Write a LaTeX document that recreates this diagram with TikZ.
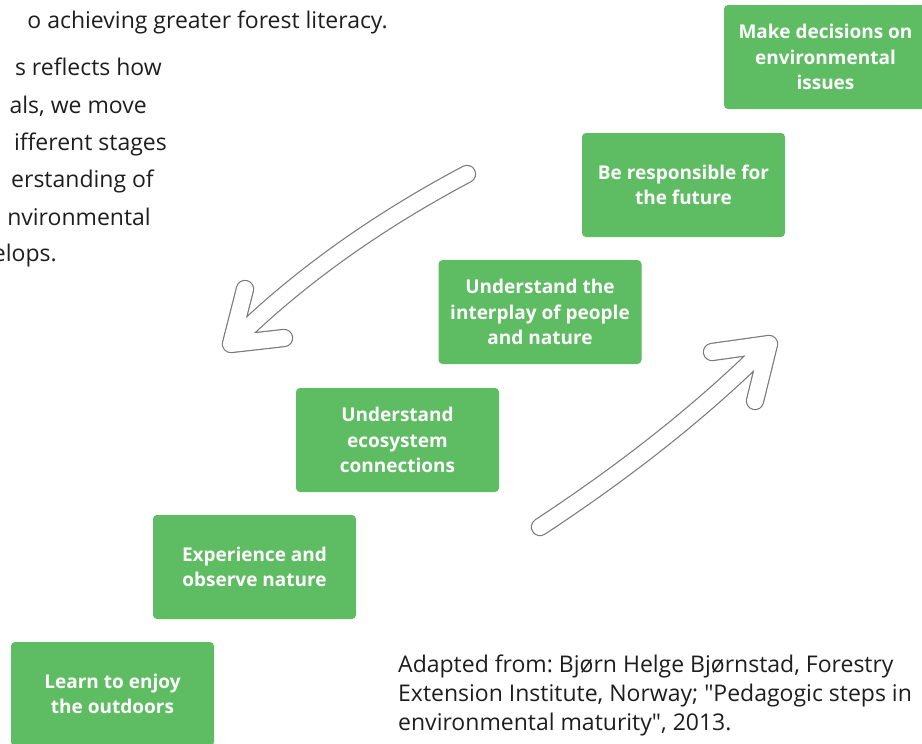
\documentclass[tikz,border=0pt]{standalone}
\usepackage{fontspec}
\setmainfont{Open Sans}
\frenchspacing
\definecolor{boxgreen}{HTML}{5EBC62}
\definecolor{txtgray}{HTML}{1E1E1E}
\definecolor{arrowgray}{HTML}{7A7A7A}
\tikzset{
  stepbox/.style={fill=boxgreen, rounded corners=4pt, minimum width=203pt, minimum height=104pt,
    text=white, font=\bfseries\fontsize{19}{25.5}\selectfont, align=center, inner sep=0pt},
  bodyline/.style={anchor=base east, inner sep=0pt, text=txtgray, font=\fontsize{23}{29}\selectfont},
  hollowarrow/.style={draw=white, line width=16pt, line cap=round, line join=round,
    preaction={draw=arrowgray, line width=18.4pt, line cap=round, line join=round}}
}
\begin{document}
\begin{tikzpicture}[x=1pt,y=-1pt]
\useasboundingbox (0,0) rectangle (922,744);
\clip (0,0) rectangle (922,744);
% body text fragments
\node[bodyline] (t1) at (388,28) {o achieving greater forest literacy.};
\node[bodyline] (t2) at (162,75) {s reflects how};
\node[bodyline] (t3) at (147,113) {als, we move};
\node[bodyline] (t4) at (167,150) {ifferent stages};
\node[bodyline] (t5) at (154,187) {erstanding of};
\node[bodyline] (t6) at (151,225) {nvironmental};
\node[bodyline] (t7) at (57,261) {elops.};
% steps
\node[stepbox] (s1) at (112.5,694) {Learn to enjoy\\the outdoors};
\node[stepbox] (s2) at (254.5,567) {Experience and\\observe nature};
\node[stepbox] (s3) at (397.5,440) {Understand\\ecosystem\\connections};
\node[stepbox] (s4) at (540,312) {Understand the\\interplay of people\\and nature};
\node[stepbox] (s5) at (683.5,185) {Be responsible for\\the future};
\node[stepbox] (s6) at (825.5,57) {Make decisions on\\environmental\\issues};
% arrows
\coordinate (aTail) at (467,174);
\coordinate (aTip) at (231,344);
\coordinate (aArm1) at (245,289);
\coordinate (aArm2) at (284,338);
\path[hollowarrow] (aTail) .. controls (382,219) and (299,276) .. (aTip)
  (aArm1) -- (aTip) -- (aArm2);
\coordinate (bTail) at (540,527);
\coordinate (bTip) at (769,344);
\coordinate (bArm1) at (712,352);
\coordinate (bArm2) at (755,401);
\path[hollowarrow] (bTail) .. controls (622,473) and (700,413) .. (bTip)
  (bArm1) -- (bTip) -- (bArm2);
% caption
\node[anchor=north west, inner sep=0pt, align=left, text=txtgray, font=\fontsize{23}{29}\selectfont] (cap) at (398,655)
 {Adapted from: Bjørn Helge Bjørnstad, Forestry\\Extension Institute, Norway; \textquotedbl Pedagogic steps in\\environmental maturity\textquotedbl, 2013.};
\end{tikzpicture}
\end{document}
